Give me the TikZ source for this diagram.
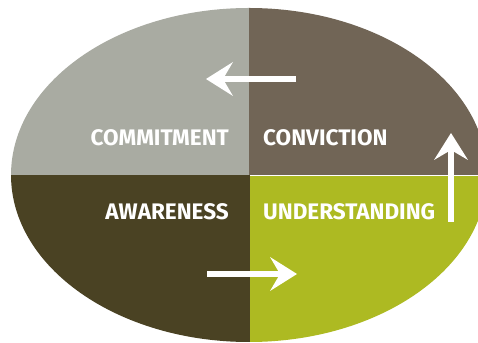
\documentclass[tikz,border=0pt]{standalone}
\usepackage{fontspec}
\setmainfont{Fira Sans}
\usepackage{tikz}
\usetikzlibrary{arrows.meta}

\definecolor{greyq}{HTML}{A9ABA2}
\definecolor{brownq}{HTML}{716556}
\definecolor{oliveq}{HTML}{4A4223}
\definecolor{limeq}{HTML}{ADBA22}

\begin{document}
\begin{tikzpicture}[x=1pt, y=1pt,
	label/.style={text=white, font=\bfseries\fontsize{22.5}{22.5}\selectfont, inner sep=0pt},
	flow/.style={white, line width=6pt,
		-{Stealth[length=27pt, width=34pt, inset=10pt, line width=0pt]}}]
	\useasboundingbox (0,0) rectangle (478,342);
	\clip (0,0) rectangle (478,342);
	\begin{scope}
		\clip (249,167) ellipse [x radius=238, y radius=167];
		\fill[greyq]  (0,167) rectangle (249,342);
		\fill[brownq] (249,167) rectangle (478,342);
		\fill[oliveq] (0,0) rectangle (250,167);
		\fill[limeq]  (250,0) rectangle (478,166);
	\end{scope}
	% quadrant labels
	\node[label, anchor=base east] (commit) at (229,196) {COMMITMENT};
	\node[label, anchor=base west] (convic) at (263,196) {CONVICTION};
	\node[label, anchor=base east] (aware)  at (229,122) {AWARENESS};
	\node[label, anchor=base west] (under)  at (263,122) {UNDERSTANDING};
	% arrows round the cycle
	\coordinate (a1) at (207,68);
	\coordinate (a2) at (297,68);
	\coordinate (b1) at (451,120);
	\coordinate (b2) at (451,209);
	\coordinate (c1) at (296,263);
	\coordinate (c2) at (206,263);
	\path[flow]
	(a1) edge (a2)
	(b1) edge (b2)
	(c1) edge (c2)
	;
\end{tikzpicture}
\end{document}
